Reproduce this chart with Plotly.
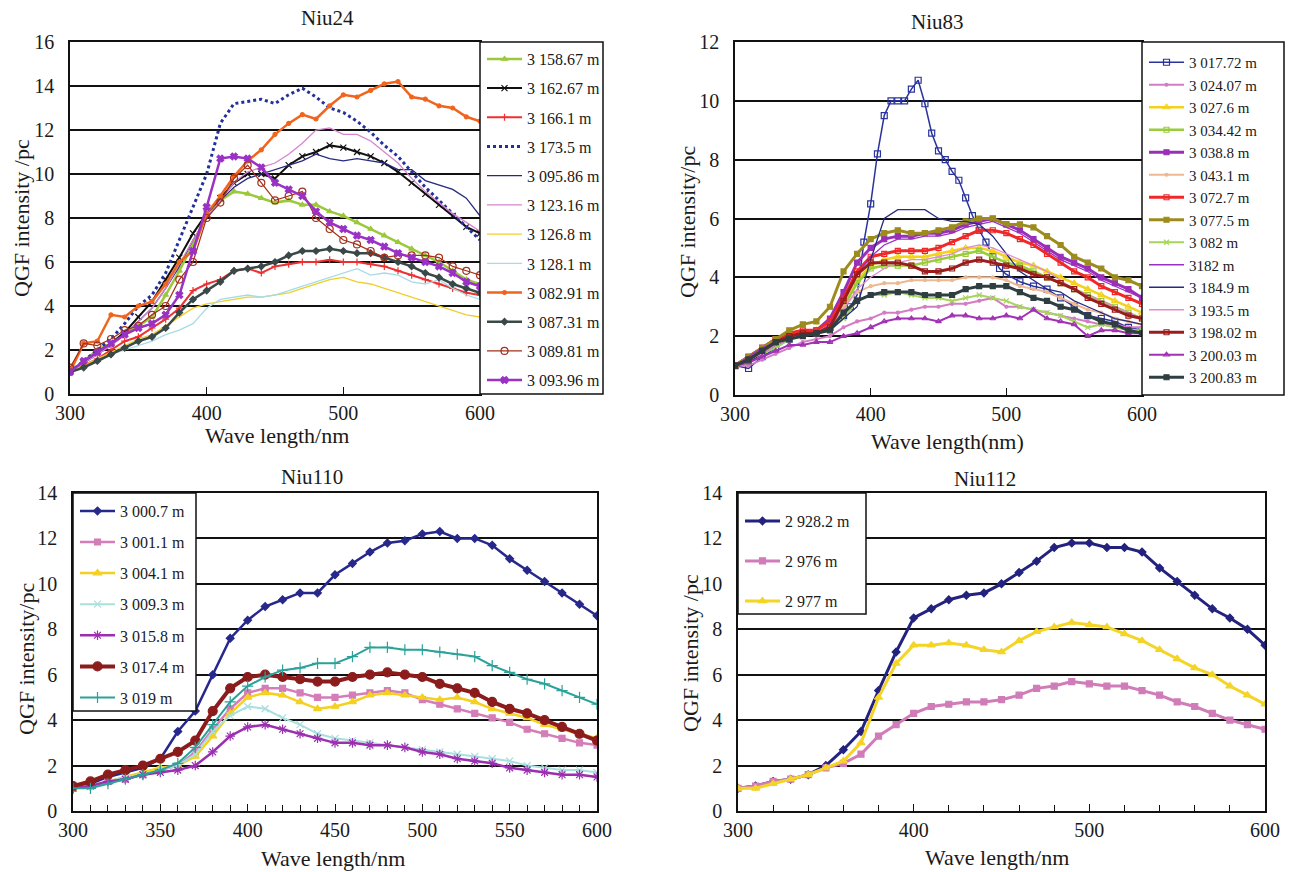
import plotly.graph_objects as go

W, H = 1294, 872

# ---------------- data ----------------
wl = list(range(300, 601, 10))

# Niu24
s24_315867 = [1.0,1.5,2.0,2.3,2.7,3.1,3.5,4.5,5.6,6.8,8.2,8.8,9.2,9.1,8.9,8.7,8.8,8.6,8.6,8.3,8.1,7.8,7.5,7.2,6.9,6.6,6.3,6.0,5.6,5.2,5.0]
s24_316267 = [1.0,1.4,1.9,2.3,2.8,3.5,4.2,5.2,6.2,7.3,8.2,8.9,9.6,10.0,10.0,9.8,10.4,10.8,11.0,11.3,11.2,11.0,10.8,10.5,10.1,9.6,9.1,8.6,8.1,7.6,7.3]
s24_31661 = [1.0,1.3,1.6,2.0,2.4,2.6,3.0,3.4,3.9,4.7,5.0,5.2,5.6,5.7,5.5,5.8,5.9,6.0,6.0,6.1,6.0,6.0,5.9,5.8,5.6,5.4,5.2,5.0,4.8,4.6,4.5]
s24_31735 = [1.0,1.5,2.0,2.5,3.2,4.0,4.5,5.5,7.0,8.5,10.0,12.3,13.2,13.3,13.4,13.2,13.6,13.9,13.5,13.0,12.8,12.4,11.9,11.3,10.8,10.1,9.4,8.8,8.2,7.6,7.0]
s24_309586 = [1.0,1.4,1.8,2.2,2.7,3.3,3.9,4.8,5.8,7.0,8.0,8.8,9.4,9.8,10.0,10.2,10.4,10.6,10.9,10.7,10.6,10.7,10.6,10.5,10.2,10.2,9.7,9.5,9.3,8.9,8.1]
s24_312316 = [1.0,1.4,1.8,2.2,2.7,3.3,3.9,4.8,5.9,7.0,8.0,8.8,9.6,10.1,10.3,10.5,10.9,11.4,12.0,12.1,11.8,11.8,11.5,11.0,10.5,9.8,9.2,8.7,8.2,7.8,7.4]
s24_31268 = [1.0,1.3,1.6,1.9,2.2,2.5,2.7,3.1,3.5,3.9,4.1,4.2,4.3,4.4,4.4,4.5,4.6,4.8,5.0,5.2,5.3,5.1,5.0,4.8,4.6,4.4,4.2,4.0,3.8,3.6,3.5]
s24_31281 = [1.0,1.2,1.5,1.8,2.0,2.2,2.4,2.7,2.9,3.2,3.9,4.3,4.4,4.5,4.4,4.5,4.7,4.9,5.1,5.3,5.5,5.7,5.4,5.5,5.4,5.1,5.0,5.2,4.8,4.5,4.3]
s24_308291 = [1.0,2.3,2.4,3.6,3.5,4.0,4.2,5.0,6.0,6.5,8.2,9.0,9.9,10.6,11.1,11.8,12.3,12.7,12.5,13.1,13.6,13.5,13.8,14.1,14.2,13.5,13.4,13.1,13.0,12.6,12.4]
s24_308731 = [1.0,1.2,1.5,1.8,2.1,2.4,2.6,3.0,3.7,4.3,4.7,5.1,5.6,5.7,5.8,6.0,6.3,6.5,6.5,6.6,6.5,6.4,6.4,6.2,6.0,5.8,5.5,5.3,5.0,4.8,4.6]
s24_308981 = [1.2,2.3,2.2,2.5,2.9,3.1,3.6,4.0,5.2,6.0,8.0,8.7,9.8,10.4,9.6,8.8,9.0,9.2,8.0,7.5,7.0,6.8,6.5,6.2,6.3,6.3,6.3,6.2,5.8,5.6,5.4]
s24_309396 = [1.0,1.5,1.9,2.3,2.7,3.0,3.2,3.6,4.5,6.5,8.5,10.7,10.8,10.7,10.3,9.6,9.3,9.0,8.3,7.8,7.5,7.2,7.0,6.7,6.4,6.2,6.0,5.8,5.5,5.1,4.9]

# Niu83
wl_301772 = [300,310,320,330,340,350,360,370,380,385,390,395,400,405,410,415,420,425,430,435,440,445,450,455,460,465,470,475,480,485,490,495,500,510,520,530,540,550,560,570,580,590,600]
s83_301772 = [1.0,0.9,1.3,1.6,1.9,2.1,2.1,2.3,2.7,3.0,3.4,5.2,6.5,8.2,9.5,10.0,10.0,10.0,10.4,10.7,9.9,8.9,8.3,8.0,7.6,7.3,6.7,6.1,5.6,5.2,4.7,4.3,4.1,3.85,3.7,3.6,3.3,3.0,2.7,2.6,2.5,2.3,2.2]
s83_302407 = [1.0,1.0,1.2,1.4,1.6,1.8,1.9,2.0,2.3,2.5,2.6,2.8,2.8,2.9,3.0,3.0,3.1,3.1,3.2,3.3,3.0,3.0,2.9,2.8,2.7,2.6,2.5,2.4,2.4,2.3,2.3]
s83_30276 = [1.0,1.2,1.5,1.7,2.0,2.1,2.2,2.4,3.0,3.9,4.4,4.6,4.7,4.7,4.7,4.8,4.9,5.0,5.0,4.9,4.7,4.5,4.4,4.2,4.0,3.8,3.6,3.4,3.2,3.0,2.8]
s83_303442 = [1.0,1.2,1.5,1.7,1.9,2.1,2.1,2.3,3.0,3.8,4.3,4.4,4.4,4.4,4.5,4.6,4.7,4.8,4.9,4.7,4.5,4.4,4.2,4.0,3.8,3.6,3.4,3.2,3.0,2.8,2.6]
s83_30388 = [1.0,1.3,1.6,1.9,2.0,2.1,2.2,2.6,3.5,4.5,5.0,5.3,5.4,5.4,5.5,5.5,5.6,5.8,5.9,6.0,5.8,5.6,5.3,5.0,4.7,4.5,4.3,4.0,3.8,3.6,3.3]
s83_30431 = [1.0,1.2,1.5,1.8,2.1,2.2,2.2,2.4,3.0,3.5,3.7,3.8,3.8,3.9,3.9,3.9,3.9,4.0,4.0,4.0,3.9,3.7,3.6,3.5,3.3,3.1,2.9,2.8,2.6,2.5,2.4]
s83_30727 = [1.0,1.3,1.6,1.9,2.1,2.2,2.2,2.5,3.3,4.2,4.7,4.8,4.9,4.9,4.9,5.0,5.2,5.4,5.6,5.6,5.5,5.3,5.1,4.8,4.5,4.2,4.0,3.7,3.5,3.3,3.1]
s83_30775 = [1.0,1.3,1.6,1.9,2.2,2.4,2.5,3.0,4.2,4.8,5.3,5.5,5.6,5.5,5.5,5.6,5.7,5.9,6.0,6.0,5.8,5.8,5.7,5.4,5.1,4.7,4.5,4.3,4.0,3.9,3.7]
s83_3082 = [1.0,1.1,1.4,1.6,1.9,2.0,2.1,2.2,2.6,3.2,3.4,3.4,3.5,3.4,3.3,3.3,3.2,3.3,3.4,3.3,3.2,3.0,2.9,2.8,2.7,2.5,2.3,2.4,2.3,2.2,2.2]
s83_3182 = [1.0,1.3,1.6,1.8,2.0,2.1,2.1,2.4,3.2,4.1,4.7,5.1,5.3,5.3,5.4,5.4,5.5,5.7,5.8,5.9,5.7,5.5,5.2,4.9,4.6,4.4,4.2,3.9,3.7,3.5,3.3]
s83_31849 = [1.0,1.1,1.4,1.7,1.9,2.0,2.1,2.2,2.6,3.0,4.6,6.0,6.3,6.3,6.3,6.0,5.9,5.9,5.8,5.4,4.8,4.2,3.9,3.6,3.5,3.2,3.0,2.8,2.6,2.5,2.4]
s83_31935 = [1.0,1.2,1.4,1.7,1.9,2.0,2.1,2.3,2.9,3.6,4.0,4.3,4.5,4.6,4.6,4.7,4.8,5.0,5.1,5.0,4.8,4.6,4.4,4.2,3.9,3.6,3.4,3.2,3.0,2.8,2.6]
s83_319802 = [1.0,1.2,1.5,1.8,2.0,2.1,2.1,2.3,3.2,4.1,4.5,4.5,4.5,4.4,4.2,4.2,4.3,4.5,4.6,4.5,4.4,4.3,4.1,4.0,3.8,3.6,3.3,3.1,2.9,2.7,2.6]
s83_320003 = [1.0,1.1,1.3,1.5,1.7,1.7,1.8,1.8,2.0,2.1,2.3,2.5,2.6,2.6,2.6,2.5,2.7,2.7,2.6,2.6,2.7,2.6,2.9,2.6,2.5,2.4,2.0,2.2,2.2,2.1,2.1]
s83_320083 = [1.0,1.2,1.5,1.8,1.9,2.0,2.1,2.2,2.8,3.2,3.4,3.5,3.5,3.5,3.4,3.4,3.4,3.6,3.7,3.7,3.7,3.5,3.3,3.2,3.0,2.9,2.7,2.5,2.4,2.2,2.1]

# Niu110
s110_30007 = [1.0,1.2,1.5,1.7,1.9,2.3,3.5,4.4,6.0,7.6,8.4,9.0,9.3,9.6,9.6,10.4,10.9,11.4,11.8,11.9,12.2,12.3,12.0,12.0,11.7,11.1,10.6,10.1,9.6,9.1,8.6]
s110_30011 = [1.0,1.1,1.3,1.4,1.6,1.8,2.0,2.6,3.6,4.5,5.2,5.4,5.4,5.2,5.0,5.0,5.1,5.2,5.3,5.2,4.9,4.7,4.5,4.3,4.1,3.9,3.6,3.4,3.2,3.0,2.9]
s110_30041 = [1.0,1.1,1.3,1.5,1.7,1.9,2.0,2.4,3.3,4.3,5.0,5.2,5.1,4.8,4.5,4.6,4.8,5.1,5.2,5.1,5.0,4.9,5.0,4.8,4.5,4.3,4.1,3.8,3.6,3.4,3.2]
s110_30093 = [1.0,1.1,1.3,1.5,1.6,1.8,2.0,2.5,3.5,4.2,4.6,4.5,4.1,3.8,3.4,3.2,3.1,3.0,2.9,2.8,2.7,2.6,2.5,2.4,2.3,2.2,2.0,1.9,1.8,1.8,1.7]
s110_30158 = [1.0,1.1,1.3,1.4,1.6,1.7,1.8,2.0,2.6,3.3,3.7,3.8,3.6,3.4,3.2,3.0,3.0,2.9,2.9,2.8,2.6,2.5,2.3,2.2,2.1,1.9,1.8,1.7,1.6,1.6,1.5]
s110_30174 = [1.1,1.3,1.6,1.8,2.0,2.3,2.6,3.1,4.4,5.4,5.9,6.0,5.9,5.8,5.7,5.7,5.9,6.0,6.1,6.0,5.9,5.6,5.4,5.2,4.8,4.5,4.3,4.0,3.7,3.4,3.1]
s110_3019 = [1.0,1.0,1.2,1.4,1.6,1.8,2.1,2.8,3.8,4.8,5.5,5.9,6.2,6.3,6.5,6.5,6.8,7.2,7.2,7.1,7.1,7.0,6.9,6.8,6.4,6.1,5.8,5.6,5.3,5.0,4.7]

# Niu112
s112_29282 = [1.0,1.1,1.3,1.4,1.6,2.0,2.7,3.5,5.3,7.0,8.5,8.9,9.3,9.5,9.6,10.0,10.5,11.0,11.6,11.8,11.8,11.6,11.6,11.4,10.7,10.1,9.5,8.9,8.5,8.0,7.3]
s112_2976 = [1.0,1.1,1.3,1.4,1.6,1.9,2.1,2.5,3.3,3.8,4.3,4.6,4.7,4.8,4.8,4.9,5.1,5.4,5.5,5.7,5.6,5.5,5.5,5.3,5.1,4.8,4.6,4.3,4.0,3.8,3.6]
s112_2977 = [1.0,1.0,1.2,1.4,1.6,1.9,2.2,3.0,5.0,6.5,7.3,7.3,7.4,7.3,7.1,7.0,7.5,7.9,8.1,8.3,8.2,8.1,7.8,7.5,7.1,6.7,6.3,6.0,5.5,5.1,4.7]

titles = ["Niu24", "Niu83", "Niu110", "Niu112"]
xtitles = ["Wave length/nm", "Wave length(nm)", "Wave length/nm", "Wave length/nm"]
ytitles = ["QGF intensity /pc", "QGF intensity/pc", "QGF intensity/pc", "QGF intensity /pc"]

# ---------------- series definitions (name, x, y, style) ----------------
# style: (color, symbol or None, marker size, line width, dash)
panel1 = [
    ("3 158.67 m", wl, s24_315867, ("#9CC83C", "triangle-up", 5, 2.5, "solid")),
    ("3 162.67 m", wl, s24_316267, ("#111111", "x-thin-open", 6, 2.0, "solid")),
    ("3 166.1 m", wl, s24_31661, ("#EE3030", "cross-thin-open", 5, 2.0, "solid")),
    ("3 173.5 m", wl, s24_31735, ("#22309A", None, 0, 3.0, "dot")),
    ("3 095.86 m", wl, s24_309586, ("#262A80", None, 0, 1.3, "solid")),
    ("3 123.16 m", wl, s24_312316, ("#D783CF", None, 0, 1.3, "solid")),
    ("3 126.8 m", wl, s24_31268, ("#F0CE2A", None, 0, 1.3, "solid")),
    ("3 128.1 m", wl, s24_31281, ("#A6DCE6", None, 0, 1.3, "solid")),
    ("3 082.91 m", wl, s24_308291, ("#F0651E", "circle", 4, 2.5, "solid")),
    ("3 087.31 m", wl, s24_308731, ("#3A4848", "diamond", 5, 2.5, "solid")),
    ("3 089.81 m", wl, s24_308981, ("#A3301C", "circle-open", 7, 1.2, "solid")),
    ("3 093.96 m", wl, s24_309396, ("#9A32C4", "x", 6, 2.5, "solid")),
]
panel2 = [
    ("3 017.72 m", wl_301772, s83_301772, ("#2A339C", "square-open", 6, 1.5, "solid")),
    ("3 024.07 m", wl, s83_302407, ("#D37CC4", "circle", 3, 2.0, "solid")),
    ("3 027.6 m", wl, s83_30276, ("#F2D21E", "triangle-up-open", 6, 2.5, "solid")),
    ("3 034.42 m", wl, s83_303442, ("#98CC3A", "square-open", 5, 2.5, "solid")),
    ("3 038.8 m", wl, s83_30388, ("#9A2FB8", "square", 5, 3.0, "solid")),
    ("3 043.1 m", wl, s83_30431, ("#EEB890", "circle", 3, 2.0, "solid")),
    ("3 072.7 m", wl, s83_30727, ("#F02828", "square-open", 5, 3.0, "solid")),
    ("3 077.5 m", wl, s83_30775, ("#9C8C1E", "square", 5, 3.0, "solid")),
    ("3 082 m", wl, s83_3082, ("#A6D45E", "x-thin-open", 5, 2.0, "solid")),
    ("3182 m", wl, s83_3182, ("#9C30C0", None, 0, 1.3, "solid")),
    ("3 184.9 m", wl, s83_31849, ("#262A80", None, 0, 1.3, "solid")),
    ("3 193.5 m", wl, s83_31935, ("#E08CD2", None, 0, 1.3, "solid")),
    ("3 198.02 m", wl, s83_319802, ("#9A1C1C", "square-open", 5, 3.0, "solid")),
    ("3 200.03 m", wl, s83_320003, ("#A232B4", "triangle-up-open", 5, 2.0, "solid")),
    ("3 200.83 m", wl, s83_320083, ("#2F3E40", "square", 5, 3.0, "solid")),
]
panel3 = [
    ("3 000.7 m", wl, s110_30007, ("#27288C", "diamond", 6, 2.5, "solid")),
    ("3 001.1 m", wl, s110_30011, ("#D47DB8", "square", 6, 2.5, "solid")),
    ("3 004.1 m", wl, s110_30041, ("#F4D020", "triangle-up", 7, 2.5, "solid")),
    ("3 009.3 m", wl, s110_30093, ("#A8E0DE", "x-thin-open", 7, 2.0, "solid")),
    ("3 015.8 m", wl, s110_30158, ("#9C2FB0", "asterisk-open", 8, 2.5, "solid")),
    ("3 017.4 m", wl, s110_30174, ("#8C1C1C", "circle", 9, 4.0, "solid")),
    ("3 019 m", wl, s110_3019, ("#2AA29A", "cross-thin-open", 8, 2.0, "solid")),
]
panel4 = [
    ("2 928.2 m", wl, s112_29282, ("#23237F", "diamond", 6, 3.0, "solid")),
    ("2 976 m", wl, s112_2976, ("#D07CB8", "square", 6, 3.0, "solid")),
    ("2 977 m", wl, s112_2977, ("#F4D426", "triangle-up", 7, 3.0, "solid")),
]

# ---------------- layout geometry (pixels) ----------------
# plot area: (left, right, top, bottom)
areas = [(70, 480, 42, 394), (735, 1142, 42, 395), (73, 597, 493, 811), (738, 1265, 493, 811)]
legend_boxes = [(480, 603, 42, 394), (1142, 1284, 42, 395), (73, 196, 493, 711), (738, 866, 493, 614)]
legend_fonts = [16, 15, 16, 16]
legend_gaps = [5.4, 0, 7.3, 16.2]
legend_yoff = [0, 4, 1, 11]
yranges = [16, 12, 14, 14]
xdticks = [100, 100, 50, 100]
xminor = [None, None, 10, 20]
title_pos = [(327, 18), (938, 22), (312, 477), (985, 479)]
xtitle_pos = [(277, 435), (947, 441), (333, 858), (997, 857)]
ytitle_pos = [(21, 218), (688, 222), (26, 659), (690, 653)]

FONT = "Liberation Serif"
TXT = "#1a1a1a"

fig = go.Figure()
panels = [panel1, panel2, panel3, panel4]

def px_x(p):
    return p / W

def px_y(p):
    return 1 - p / H

for i, panel in enumerate(panels):
    ax = "" if i == 0 else str(i + 1)
    leg = "legend" if i == 0 else "legend" + str(i + 1)
    for name, xs, ys, (col, sym, msize, lw, dash) in panel:
        mode = "lines+markers" if sym else "lines"
        tr = dict(
            x=xs, y=ys, name=name, mode=mode,
            line=dict(color=col, width=lw, dash=dash),
            xaxis="x" + ax, yaxis="y" + ax, legend=leg,
            legendgroup=name + leg,
        )
        if sym:
            tr["marker"] = dict(symbol=sym, size=msize, color=col,
                                line=dict(color=col, width=1.2))
        fig.add_trace(go.Scatter(**tr))

layout = dict(
    template="none",
    width=W, height=H, autosize=False,
    margin=dict(l=0, r=0, t=0, b=0, pad=0),
    paper_bgcolor="white", plot_bgcolor="white",
    font=dict(family=FONT, color=TXT),
    shapes=[], annotations=[],
)

for i in range(4):
    ax = "" if i == 0 else str(i + 1)
    l, r, t, b = areas[i]
    xa = dict(
        domain=[px_x(l), px_x(r)], range=[300, 600], dtick=xdticks[i], tick0=300,
        showgrid=False, zeroline=False, showline=True, linecolor="#111", linewidth=1.5,
        mirror=True, ticks="inside", ticklen=7, tickwidth=1.2, tickcolor="#111",
        tickfont=dict(family=FONT, size=20, color=TXT), ticklabelstandoff=0,
        anchor="y" + ax, automargin=False,
    )
    if xminor[i]:
        xa["minor"] = dict(dtick=xminor[i], tick0=300, ticks="inside", ticklen=6,
                           tickwidth=1.2, tickcolor="#111", showgrid=False)
    ya = dict(
        domain=[px_y(b), px_y(t)], range=[0, yranges[i]], dtick=2,
        showgrid=True, gridcolor="#111", gridwidth=1.5, zeroline=False,
        showline=True, linecolor="#111", linewidth=1.5, mirror=True, ticks="",
        tickfont=dict(family=FONT, size=20, color=TXT), ticklabelstandoff=10,
        anchor="x" + ax, automargin=False,
    )
    layout["xaxis" + ax] = xa
    layout["yaxis" + ax] = ya

    # legend box
    bl, br, bt, bb = legend_boxes[i]
    layout["shapes"].append(dict(
        type="rect", xref="paper", yref="paper",
        x0=px_x(bl), x1=px_x(br), y0=px_y(bb), y1=px_y(bt),
        line=dict(color="#111", width=1.5), fillcolor="white", layer="above",
    ))
    leg = "legend" if i == 0 else "legend" + str(i + 1)
    layout[leg] = dict(
        x=px_x(bl + 2), y=px_y(bt + legend_yoff[i]), xanchor="left", yanchor="top",
        bgcolor="rgba(0,0,0,0)", borderwidth=0, itemwidth=35,
        font=dict(family=FONT, size=legend_fonts[i], color=TXT),
        tracegroupgap=legend_gaps[i], traceorder="grouped",
    )

    # titles
    tx, ty = title_pos[i]
    layout["annotations"].append(dict(
        text=titles[i], x=px_x(tx), y=px_y(ty), xref="paper", yref="paper",
        showarrow=False, font=dict(family=FONT, size=21, color=TXT),
        xanchor="center", yanchor="middle"))
    tx, ty = xtitle_pos[i]
    layout["annotations"].append(dict(
        text=xtitles[i], x=px_x(tx), y=px_y(ty), xref="paper", yref="paper",
        showarrow=False, font=dict(family=FONT, size=22, color=TXT),
        xanchor="center", yanchor="middle"))
    tx, ty = ytitle_pos[i]
    layout["annotations"].append(dict(
        text=ytitles[i], x=px_x(tx), y=px_y(ty), xref="paper", yref="paper",
        showarrow=False, textangle=-90, font=dict(family=FONT, size=22, color=TXT),
        xanchor="center", yanchor="middle"))

fig.update_layout(**layout)

fig.write_html("out.html", config={"displayModeBar": False},
               post_script="document.body.style.margin='0';")
